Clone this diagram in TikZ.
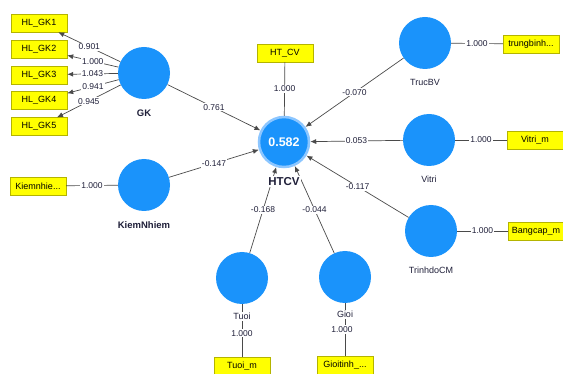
\documentclass[tikz,border=0pt]{standalone}
\usepackage{fontspec}
\setmainfont{Liberation Sans}
\usetikzlibrary{arrows.meta,positioning}
\definecolor{lvblue}{HTML}{1A93FB}
\definecolor{ringblue}{HTML}{8CC6FF}
\definecolor{boxfill}{HTML}{FFFF00}
\definecolor{boxedge}{HTML}{B4B400}
\definecolor{linecol}{HTML}{4A4A4A}
\definecolor{txtcol}{HTML}{20203A}
\tikzset{
  latent/.style={circle,fill=lvblue,minimum size=52pt,inner sep=0pt},
  indicator/.style={draw=boxedge,fill=boxfill,minimum width=56pt,minimum height=18pt,
    inner sep=1pt,font=\fontsize{9}{10}\selectfont},
  lvname/.style={font=\fontsize{9}{10}\selectfont,inner sep=1pt,fill=white,text=txtcol},
  path/.style={-{Latex[length=6pt,width=5pt]},draw=linecol,line width=0.7pt},
  link/.style={draw=linecol,line width=0.7pt},
  coef/.style={font=\fontsize{8.5}{10}\selectfont,fill=white,inner sep=1pt,text=txtcol}
}
\begin{document}
\begin{tikzpicture}[x=1pt,y=-1pt,node distance=7.5pt]
  \useasboundingbox (0,0) rectangle (563,374);
  % latent variables
  \node[latent] (gk) at (144,73) {};
  \node[latent] (kn) at (144,185) {};
  \node[latent,draw=ringblue,line width=2.5pt,minimum size=50pt,text=white,
    font=\fontsize{12.5}{14}\selectfont\bfseries] (htcv) at (284,142) {0.582};
  \node[latent] (trucbv) at (425,43) {};
  \node[latent] (vitri) at (429,140) {};
  \node[latent] (trinhdo) at (431,231) {};
  \node[latent] (tuoi) at (242,278) {};
  \node[latent] (gioi) at (345,277) {};
  % indicators
  \node[indicator] (gk1) at (39,23) {HL\_GK1};
  \node[indicator,below=of gk1] (gk2) {HL\_GK2};
  \node[indicator,below=of gk2] (gk3) {HL\_GK3};
  \node[indicator,below=of gk3] (gk4) {HL\_GK4};
  \node[indicator,below=of gk4] (gk5) {HL\_GK5};
  \node[indicator] (knm) at (38,186) {Kiemnhie...};
  \node[indicator] (htcvm) at (285,53) {HT\_CV};
  \node[indicator] (trucm) at (531,44) {trungbinh...};
  \node[indicator] (vitrim) at (535,140) {Vitri\_m};
  \node[indicator] (bangm) at (536,231) {Bangcap\_m};
  \node[indicator] (tuoim) at (242,366) {Tuoi\_m};
  \node[indicator] (gioim) at (345,365) {Gioitinh\_...};
  % outer loadings
  \draw[path] (gk) -- node[coef]{0.901} (gk1);
  \draw[path] (gk) -- node[coef]{1.000} (gk2);
  \draw[path] (gk) -- node[coef]{1.043} (gk3);
  \draw[path] (gk) -- node[coef]{0.941} (gk4);
  \draw[path] (gk) -- node[coef]{0.945} (gk5);
  \draw[link] (kn) -- node[coef]{1.000} (knm);
  \draw[link] (htcv) -- node[coef]{1.000} (htcvm);
  \draw[link] (trucbv) -- node[coef]{1.000} (trucm);
  \draw[link] (vitri) -- node[coef]{1.000} (vitrim);
  \draw[link] (trinhdo) -- node[coef]{1.000} (bangm);
  \draw[link] (tuoi) -- node[coef,pos=0.55]{1.000} (tuoim);
  \draw[link] (gioi) -- node[coef,pos=0.5,xshift=-3pt]{1.000} (gioim);
  % inner paths
  \draw[path] (gk) -- node[coef]{0.761} (htcv);
  \draw[path] (kn) -- node[coef]{-0.147} (htcv);
  \draw[path] (tuoi) -- node[coef]{-0.168} (htcv);
  \draw[path] (gioi) -- node[coef]{-0.044} (htcv);
  \draw[path] (trucbv) -- node[coef]{-0.070} (htcv);
  \draw[path] (vitri) -- node[coef]{0.053} (htcv);
  \draw[path] (trinhdo) -- node[coef]{-0.117} (htcv);
  % construct names
  \node[lvname,font=\fontsize{9.5}{10}\selectfont\bfseries,below=9pt of gk] (gkname) {GK};
  \node[lvname,font=\fontsize{9.5}{10}\selectfont\bfseries,below=9pt of kn] (knname) {KiemNhiem};
  \node[lvname,font=\fontsize{11.5}{12}\selectfont\bfseries,below=8pt of htcv] (htcvname) {HTCV};
  \node[lvname,below=9pt of trucbv] (trucname) {TrucBV};
  \node[lvname,below=9pt of vitri] (vitriname) {Vitri};
  \node[lvname,below=9pt of trinhdo] (trinhname) {TrinhdoCM};
  \node[lvname,below=8pt of tuoi] (tuoiname) {Tuoi};
  \node[lvname,below=7pt of gioi] (gioiname) {Gioi};
\end{tikzpicture}
\end{document}
